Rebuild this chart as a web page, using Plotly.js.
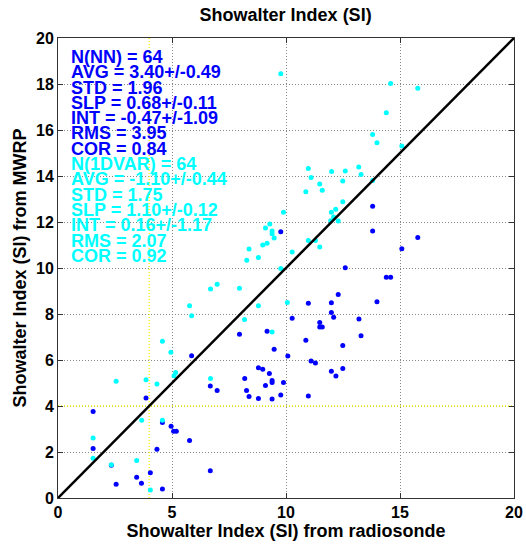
<!DOCTYPE html>
<html>
<head>
<meta charset="utf-8">
<script src="https://cdn.plot.ly/plotly-3.0.1.min.js"></script>
<style>html,body{margin:0;padding:0;background:#fff;}#chart{width:526px;height:546px;}</style>
</head>
<body>
<div id="chart"></div>
<script>
// NN retrieval (blue) vs radiosonde
const nnX = [5.86,6.68,6.98,3.86,1.54,4.58,4.96,5.07,5.19,5.77,1.54,4.34,2.34,3.45,4.05,3.66,2.55,4.58,6.68,7.96,
             9.77,13.80,13.80,15.78,15.08,12.60,14.40,14.59,12.29,13.99,10.98,11.99,11.99,12.09,10.27,13.20,11.48,11.48,11.59,9.17,
             13.29,10.87,9.48,12.49,10.08,11.10,11.29,8.79,8.98,9.27,12.49,11.99,12.19,8.19,9.39,9.39,9.89,9.10,8.27,8.38,
             8.79,9.39,9.77,10.98];
const nnY = [6.18,4.87,4.67,4.35,3.76,3.28,3.12,2.90,2.90,2.50,2.15,2.12,1.42,0.90,1.10,0.64,0.60,0.39,1.19,7.12,
             11.58,12.69,11.61,11.33,10.84,10.01,9.60,9.60,8.85,8.53,8.47,8.49,8.07,7.86,7.81,7.78,7.63,7.43,7.43,7.25,
             7.05,6.86,6.47,6.63,6.17,5.96,5.87,5.66,5.60,5.41,5.63,5.51,5.30,5.20,5.11,5.02,5.02,4.89,4.67,4.41,
             4.33,4.30,4.48,4.44];
// 1DVAR retrieval (cyan) vs radiosonde
const dvX = [4.58,4.95,5.16,5.09,6.69,2.55,3.86,4.34,3.67,4.58,1.54,1.54,2.34,3.45,4.05,5.77,5.86,6.69,6.98,7.96,
             8.28,8.38,8.18,9.77,14.59,15.78,14.40,13.80,13.99,15.08,10.98,13.19,12.00,12.60,11.10,13.29,11.48,12.49,11.59,10.87,
             13.80,12.49,12.18,11.99,12.09,12.29,9.89,9.29,9.10,9.39,9.39,9.48,9.17,8.98,8.79,10.98,11.29,10.27,11.48,9.77,
             8.79,10.06,9.39,11.96];
const dvY = [6.81,6.34,5.46,5.31,5.20,5.08,5.14,4.96,3.38,3.38,2.61,1.73,1.45,1.63,0.35,8.36,7.92,9.09,9.29,9.12,
             10.34,10.83,7.76,18.45,18.02,17.82,16.75,15.80,15.45,15.30,14.33,14.39,14.20,14.22,13.93,14.07,13.65,13.78,13.38,13.32,
             13.80,12.88,12.55,12.42,12.22,12.04,12.42,11.91,11.74,11.61,11.49,11.30,11.08,11.00,10.46,11.20,11.20,10.70,10.91,9.98,
             8.36,8.50,7.22,12.05];
const oneToOne = [0, 20];
const threshold = 4;
const xTicks = [0, 5, 10, 15, 20];
const yTicks = [0, 2, 4, 6, 8, 10, 12, 14, 16, 18, 20];
const nnStats = ["N(NN) = 64","AVG = 3.40+/-0.49","STD = 1.96","SLP = 0.68+/-0.11","INT = -0.47+/-1.09","RMS = 3.95","COR = 0.84"];
const dvStats = ["N(1DVAR) = 64","AVG = -1.10+/-0.44","STD = 1.75","SLP = 1.10+/-0.12","INT = 0.16+/-1.17","RMS = 2.07","COR = 0.92"];

const FONT = "Liberation Sans, Arial, sans-serif";
const BLUE = "#0000ff", CYAN = "#00ffff";

const traces = [
  {x: [threshold, threshold], y: [0, 20], mode: "lines", line: {color: "#f0f000", width: 1.3, dash: "1px,2px"}, hoverinfo: "skip", showlegend: false},
  {x: [0, 20], y: [threshold, threshold], mode: "lines", line: {color: "#f0f000", width: 1.3, dash: "1px,2px"}, hoverinfo: "skip", showlegend: false},
  {x: nnX, y: nnY, mode: "markers", marker: {color: BLUE, size: 5}, showlegend: false},
  {x: dvX, y: dvY, mode: "markers", marker: {color: CYAN, size: 5}, showlegend: false},
  {x: oneToOne, y: oneToOne, mode: "lines", line: {color: "#000", width: 2.5}, showlegend: false}
];

const annotations = [];
const allStats = nnStats.map(t => [t, BLUE]).concat(dvStats.map(t => [t, CYAN]));
allStats.forEach((s, i) => {
  annotations.push({
    xref: "x", yref: "y", x: 0.47, y: 19.18 - i * 0.666,
    text: s[0], showarrow: false, xanchor: "left", yanchor: "middle",
    font: {family: FONT, size: 18, color: s[1], weight: "bold"}
  });
});

const axisCommon = {
  showline: true, linecolor: "#333", linewidth: 1, mirror: "allticks",
  ticks: "inside", ticklen: 5, tickcolor: "#333",
  showgrid: true, gridcolor: "#888", griddash: "1px,2px", gridwidth: 1,
  zeroline: false, tickfont: {family: FONT, size: 16, color: "#000", weight: "bold"}
};

const layout = {
  width: 526, height: 546,
  margin: {l: 58, r: 12, t: 38, b: 48},
  paper_bgcolor: "#fff", plot_bgcolor: "#fff",
  title: {text: "Showalter Index (SI)", font: {family: FONT, size: 18, color: "#000", weight: "bold"}, x: 0.543, xanchor: "center", y: 0.973, yanchor: "middle"},
  xaxis: Object.assign({}, axisCommon, {range: [0, 20], tickvals: xTicks, ticktext: xTicks.map(String),
    title: {text: "Showalter Index (SI) from radiosonde", font: {family: FONT, size: 18, color: "#000", weight: "bold"}, standoff: 2}}),
  yaxis: Object.assign({}, axisCommon, {range: [0, 20], tickvals: yTicks, ticktext: yTicks.map(String),
    title: {text: "Showalter Index (SI) from MWRP", font: {family: FONT, size: 18, color: "#000", weight: "bold"}, standoff: 4}}),
  annotations: annotations,
  showlegend: false
};

Plotly.newPlot("chart", traces, layout, {staticPlot: true, displayModeBar: false});
</script>
</body>
</html>
